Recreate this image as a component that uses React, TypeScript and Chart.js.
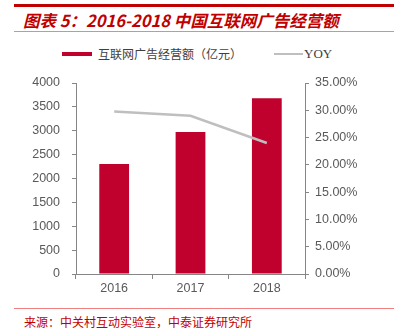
import React, { useEffect, useRef } from "react";
import { Chart, registerables } from "chart.js";

Chart.register(...registerables);

const categories = ["2016", "2017", "2018"];
const revenue = [2305, 2975, 3680];
const yoy = [29.8, 29.0, 24.0];
const leftTicks = [0, 500, 1000, 1500, 2000, 2500, 3000, 3500, 4000];
const rightTicks = [0, 5, 10, 15, 20, 25, 30, 35];

const titleText = "图表 5：2016-2018 中国互联网广告经营额";
const sourceText = "来源：中关村互动实验室，中泰证券研究所";
const barLabel = "互联网广告经营额（亿元）";
const lineLabel = "YOY";

const RED = "#C0002D";
const GRAY_LINE = "#BFBFBF";
const AXIS = "#868686";
const TICK_TEXT = "#595959";

export default function App() {
  const ref = useRef<HTMLCanvasElement | null>(null);

  useEffect(() => {
    if (!ref.current) return;
    const tickFont = { family: "'Liberation Sans', Arial, sans-serif", size: 12.5 };
    const chart = new Chart(ref.current, {
      type: "bar",
      data: {
        labels: categories,
        datasets: [
          {
            type: "line",
            label: lineLabel,
            data: yoy,
            yAxisID: "y1",
            borderColor: GRAY_LINE,
            backgroundColor: GRAY_LINE,
            borderWidth: 2.5,
            pointRadius: 0,
            tension: 0,
            order: 0,
          } as any,
          {
            type: "bar",
            label: barLabel,
            data: revenue,
            yAxisID: "y",
            backgroundColor: RED,
            borderWidth: 0,
            barPercentage: 0.39,
            categoryPercentage: 1,
            order: 1,
          } as any,
        ],
      },
      options: {
        responsive: false,
        animation: false,
        layout: { padding: { top: 13, left: 0, right: 0, bottom: 0 } },
        plugins: {
          legend: { display: false },
          tooltip: { enabled: false },
          title: { display: false },
        },
        scales: {
          x: {
            grid: {
              display: true,
              offset: true,
              drawOnChartArea: false,
              drawTicks: true,
              tickLength: 5,
              color: AXIS,
            },
            border: { display: true, color: AXIS, width: 1 },
            ticks: { color: TICK_TEXT, font: tickFont, padding: 2, maxRotation: 0 },
            afterFit: (s: any) => {
              s.height = 26;
              s.paddingLeft = 0;
              s.paddingRight = 0;
            },
          },
          y: {
            position: "left",
            min: 0,
            max: 4000,
            afterBuildTicks: (s: any) => {
              s.ticks = leftTicks.map((v) => ({ value: v }));
            },
            grid: {
              drawOnChartArea: false,
              drawTicks: true,
              tickLength: 4,
              color: AXIS,
            },
            border: { display: true, color: AXIS, width: 1 },
            ticks: {
              color: TICK_TEXT,
              font: tickFont,
              padding: 12,
              callback: (v: any) => String(v),
            },
            afterFit: (s: any) => {
              s.width = 76;
              s.paddingTop = 0;
              s.paddingBottom = 0;
            },
          },
          y1: {
            position: "right",
            min: 0,
            max: 35,
            afterBuildTicks: (s: any) => {
              s.ticks = rightTicks.map((v) => ({ value: v }));
            },
            grid: {
              drawOnChartArea: false,
              drawTicks: true,
              tickLength: 4,
              color: AXIS,
            },
            border: { display: true, color: AXIS, width: 1 },
            ticks: {
              color: TICK_TEXT,
              font: tickFont,
              padding: 6,
              callback: (v: any) => Number(v).toFixed(2) + "%",
            },
            afterFit: (s: any) => {
              s.width = 89;
              s.paddingTop = 0;
              s.paddingBottom = 0;
            },
          },
        },
      },
    });
    return () => chart.destroy();
  }, []);

  const cjk = "'Noto Sans CJK SC', 'Noto Sans', sans-serif";

  return (
    <div
      style={{
        position: "absolute",
        left: 0,
        top: 0,
        width: 394,
        height: 333,
        background: "#fff",
        overflow: "hidden",
      }}
    >
      <div style={{ position: "absolute", left: 14, top: 4, width: 380, height: 3, background: "#C00000" }} />
      <div
        style={{
          position: "absolute",
          left: 23,
          top: 10,
          height: 20,
          lineHeight: "20px",
          fontFamily: cjk,
          fontSize: 16.5,
          fontWeight: 700,
          fontStyle: "italic",
          color: "#C00000",
          whiteSpace: "nowrap",
        }}
      >
        {titleText}
      </div>
      <div style={{ position: "absolute", left: 14, top: 31, width: 380, height: 1, background: "#E48A8A" }} />

      <div style={{ position: "absolute", left: 62, top: 52, width: 30, height: 4, background: RED }} />
      <div
        style={{
          position: "absolute",
          left: 98,
          top: 46,
          height: 16,
          lineHeight: "16px",
          fontFamily: cjk,
          fontSize: 12,
          color: "#404040",
          whiteSpace: "nowrap",
        }}
      >
        {barLabel}
      </div>
      <div style={{ position: "absolute", left: 274, top: 53, width: 29, height: 1.5, background: GRAY_LINE }} />
      <div
        style={{
          position: "absolute",
          left: 304,
          top: 46,
          height: 16,
          lineHeight: "16px",
          fontFamily: "'Liberation Serif', serif",
          fontSize: 13,
          color: "#404040",
          whiteSpace: "nowrap",
        }}
      >
        {lineLabel}
      </div>

      <canvas
        ref={ref}
        width={394}
        height={230}
        style={{ position: "absolute", left: 0, top: 70, width: 394, height: 230 }}
      />

      <div style={{ position: "absolute", left: 14, top: 308, width: 380, height: 1, background: "#F08080" }} />
      <div
        style={{
          position: "absolute",
          left: 24,
          top: 314,
          height: 16,
          lineHeight: "16px",
          fontFamily: cjk,
          fontSize: 12,
          color: "#C00000",
          whiteSpace: "nowrap",
        }}
      >
        {sourceText}
      </div>
    </div>
  );
}
